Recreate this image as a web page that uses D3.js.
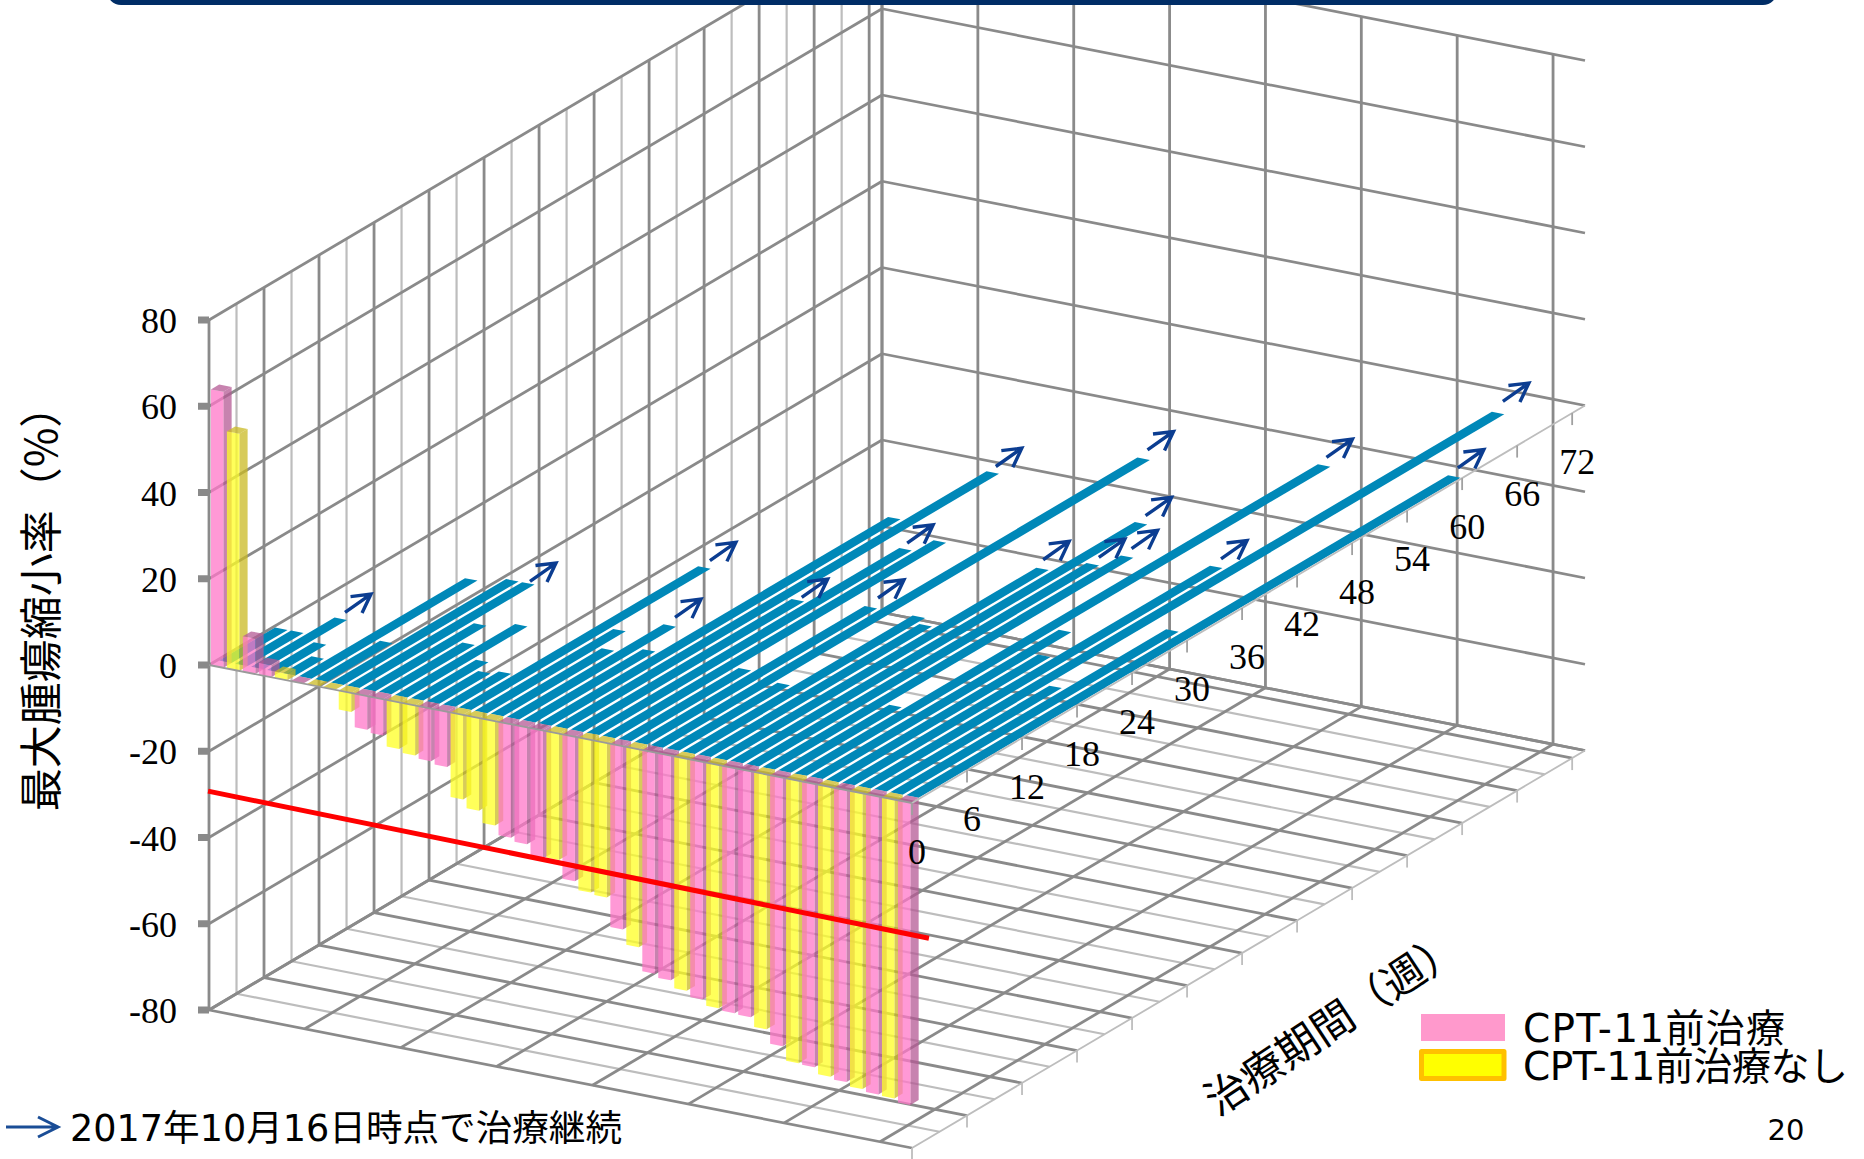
<!DOCTYPE html>
<html>
<head>
<meta charset="utf-8">
<script src="https://cdnjs.cloudflare.com/ajax/libs/d3/7.8.5/d3.min.js"></script>
<style>
  html, body { margin: 0; padding: 0; background: #fff; overflow: hidden; }
  svg { display: block; }
</style>
</head>
<body>
<div id="chart"></div>
<script>
// one entry per patient, left to right along the front of the box
const change = [64, 55, 8.2, 2.8, 1.5, 0, 0, 0, -4.4, -7.8, -8.4, -10.8, -11.6, -12.2, -12.8, -19.6, -21.5, -24.2, -26.3, -27.1, -29.7, -29.3,
  -33.5, -35.4, -35.8, -42.5, -45.9, -51.3, -52.1, -53.8, -55.1, -56.4, -56.8, -57, -59.1, -62.3, -65.5, -65.7, -67.2, -67.7, -68.6, -69.1, -69.3, -70.1];
const weeks = [7, 7, 10, 6, 4, 19, 8, 20, 20, 13, 10, 14, 8, 6.5, 7, 27, 16, 13, 18, 14, 39, 48,
  25, 35, 37, 14, 26, 54, 13, 26, 25, 36, 45, 38, 40, 13, 58, 28, 24, 41, 70, 20, 31, 60];
const groups = ["p", "y", "p", "p", "y", "p", "y", "y", "y", "p", "p", "y", "y", "p", "p", "y", "y", "y", "p", "p", "p", "y",
  "p", "y", "y", "p", "y", "p", "p", "y", "p", "y", "p", "p", "y", "p", "y", "p", "y", "p", "y", "p", "y", "p"];
const ongoing = [2, 8, 15, 18, 21, 22, 23, 26, 27, 31, 32, 33, 34, 36, 39, 40, 43];

const valueTicks = [-80, -60, -40, -20, 0, 20, 40, 60, 80];
const weekTicks = [0, 6, 12, 18, 24, 30, 36, 42, 48, 54, 60, 66, 72];
const patientGrid = [0, 6, 12, 18, 24, 30, 36, 42];
const weekGrid = [0, 3, 6, 9, 12, 15, 18, 21, 24, 27, 30, 33, 36, 39, 42, 45, 48, 51, 54, 57, 60, 63, 66, 69, 72];
const legendLabels = ["CPT-11前治療", "CPT-11前治療なし"];

const WEEK_MAX = 73.4;
const N = change.length;
const COLORS = {
  grid: "#8a8a8a", light: "#bdbdbd", blue: "#0088b8", arrow: "#0b3d91",
  p: {front: "#ff77c8", side: "#b45a94", top: "#b45a94"},
  y: {front: "#ffff23", side: "#caba23", top: "#caba23"}
};
const BAR = {start: 0.12, end: 0.9, depth: 0.9, opacity: 0.75};

// the box is an oblique projection, so each axis adds its own screen offset
const xPatient = d3.scaleLinear().domain([0, N]).range([0, 703]);
const yPatient = d3.scaleLinear().domain([0, N]).range([0, 138]);
const xWeek = d3.scaleLinear().domain([0, WEEK_MAX]).range([0, 673]);
const yWeek = d3.scaleLinear().domain([0, WEEK_MAX]).range([0, -397.5]);
const yValue = d3.scaleLinear().domain([-80, 80]).range([1010, 320]);
const X0 = 209;

function pt(a, w, v) {
  return [X0 + xPatient(a) + xWeek(w), yValue(v) + yPatient(a) + yWeek(w)];
}

const svg = d3.select("div#chart").append("svg").attr("width", 1864).attr("height", 1159);
const line = d3.line();

function seg(g, p1, p2, color, width) {
  g.append("line").attr("x1", p1[0]).attr("y1", p1[1]).attr("x2", p2[0]).attr("y2", p2[1])
    .attr("stroke", color).attr("stroke-width", width);
}
function poly(g, pts, fill, opacity) {
  g.append("path").attr("d", line(pts) + "Z").attr("fill", fill).attr("fill-opacity", opacity);
}

// ---- walls and floor
const grid = svg.append("g");
weekGrid.forEach(w => {
  const major = w % 6 === 0;
  const c = major ? COLORS.grid : COLORS.light;
  seg(grid, pt(0, w, -80), pt(N, w, -80), c, major ? 2.8 : 2.2);
  seg(grid, pt(0, w, -80), pt(0, w, 80), c, major ? 2.8 : 2.2);
});
seg(grid, pt(0, WEEK_MAX, -80), pt(N, WEEK_MAX, -80), COLORS.grid, 2.8);
seg(grid, pt(0, WEEK_MAX, -80), pt(0, WEEK_MAX, 80), COLORS.grid, 2.8);
patientGrid.forEach(a => {
  seg(grid, pt(a, 0, -80), pt(a, WEEK_MAX, -80), COLORS.grid, 2.8);
  seg(grid, pt(a, WEEK_MAX, -80), pt(a, WEEK_MAX, 80), COLORS.grid, 2.8);
});
valueTicks.forEach(v => {
  seg(grid, pt(0, 0, v), pt(0, WEEK_MAX, v), COLORS.grid, 2.8);
  seg(grid, pt(0, WEEK_MAX, v), pt(N, WEEK_MAX, v), COLORS.grid, 2.8);
});
// right edge of floor with its ticks
seg(grid, pt(N, 0, -80), pt(N, WEEK_MAX, -80), COLORS.light, 1.8);
weekTicks.forEach(w => {
  const p = pt(N, w, -80);
  seg(grid, p, [p[0], p[1] + 12], COLORS.light, 1.8);
});

// ---- duration bars lying in the zero plane
const blue = svg.append("g");
weeks.forEach((w, i) => {
  poly(blue, [pt(i + BAR.start, BAR.depth, 0), pt(i + BAR.end, BAR.depth, 0), pt(i + BAR.end, w, 0), pt(i + BAR.start, w, 0)], COLORS.blue, 1);
});

// ---- tumour change columns
const bars = svg.append("g");
change.forEach((v, i) => {
  const c = COLORS[groups[i]];
  const a0 = i + BAR.start, a1 = i + BAR.end, d = BAR.depth;
  const hi = Math.max(v, 0), lo = Math.min(v, 0);
  if (hi !== lo) {
    poly(bars, [pt(a1, 0, hi), pt(a1, d, hi), pt(a1, d, lo), pt(a1, 0, lo)], c.side, BAR.opacity);
    poly(bars, [pt(a0, 0, hi), pt(a1, 0, hi), pt(a1, 0, lo), pt(a0, 0, lo)], c.front, BAR.opacity);
  }
  poly(bars, [pt(a0, 0, hi), pt(a1, 0, hi), pt(a1, d, hi), pt(a0, d, hi)], c.top, BAR.opacity);
});

// ---- axes at the zero plane
const axes = svg.append("g");
seg(axes, pt(0, 0, 0), pt(N, 0, 0), "#9a9a9a", 1.8);
seg(axes, pt(N, 0, 0), pt(N, WEEK_MAX, 0), COLORS.light, 1.8);
weekTicks.forEach(w => {
  const p = pt(N, w, 0);
  seg(axes, p, [p[0], p[1] + 12], "#a0a0a0", 1.8);
  axes.append("text").attr("x", p[0] + 5).attr("y", p[1] + 48.5)
    .attr("text-anchor", "middle").attr("dominant-baseline", "central")
    .attr("font-family", "Liberation Serif").attr("font-size", 36).attr("fill", "#000").text(w);
});
valueTicks.forEach(v => {
  const y = yValue(v);
  axes.append("rect").attr("x", X0 - 11).attr("y", y - 3.5).attr("width", 11).attr("height", 7).attr("fill", COLORS.grid);
  axes.append("text").attr("x", 177).attr("y", y + 1).attr("text-anchor", "end").attr("dominant-baseline", "central")
    .attr("font-family", "Liberation Serif").attr("font-size", 36).attr("fill", "#000").text(v);
});

// ---- -30% threshold
seg(svg, pt(-0.06, 0, -29.3), pt(N + 1.06, 0, -30.6), "#ff0000", 5);

// ---- ongoing-treatment arrows, hand placed in the slide so each sits a bit differently off its bar
const arrowDx = [4.4, 1.8, 5.7, 5.4, 3.2, 4, 1.8, 7.2, 4, 0.8, 4.7, 6.2, 4.6, 2.5, 5, 5, 3.7];
const arrowDy = [-6.3, -2, -6.7, -8.1, -6, -2.8, -6.1, -9.3, -9, -9.1, -7.5, -6.8, -7.9, -8, -8, -11.6, -8.7];
function arrow(g, base, dx, dy, b1, b2, width, color) {
  const tip = [base[0] + dx, base[1] + dy];
  g.append("path")
    .attr("d", line([base, tip]) + line([[tip[0] + b1[0], tip[1] + b1[1]], tip, [tip[0] + b2[0], tip[1] + b2[1]]]))
    .attr("fill", "none").attr("stroke", color).attr("stroke-width", width);
}
const arrows = svg.append("g");
ongoing.forEach((i, k) => {
  const end = pt(i + 0.5, weeks[i], 0);
  arrow(arrows, [end[0] + arrowDx[k], end[1] + arrowDy[k]], 26, -18.3, [-20.5, 2.5], [-9, 19], 3.4, COLORS.arrow);
});

// ---- titles, legend, footer
const jp = "'DejaVu Sans', 'Noto Sans CJK JP'";
svg.append("text").attr("transform", "translate(38,598) rotate(-90)")
  .attr("text-anchor", "middle").attr("dominant-baseline", "central")
  .attr("font-family", "'Noto Sans CJK JP'").attr("font-size", 43).attr("fill", "#000").text("最大腫瘍縮小率（%）");
svg.append("text").attr("transform", "translate(1331,1020) rotate(-33.4)")
  .attr("text-anchor", "middle").attr("dominant-baseline", "central")
  .attr("font-family", "'Noto Sans CJK JP'").attr("font-size", 42.3).attr("fill", "#000").text("治療期間（週）");

svg.append("rect").attr("x", 1421).attr("y", 1014).attr("width", 84).attr("height", 27).attr("fill", "#ff99cc");
svg.append("rect").attr("x", 1421.5).attr("y", 1051.5).attr("width", 82.5).attr("height", 27)
  .attr("fill", "#ffff00").attr("stroke", "#ffc000").attr("stroke-width", 5).attr("stroke-linejoin", "round");
legendLabels.forEach((t, i) => {
  svg.append("text").attr("x", 1523).attr("y", i === 0 ? 1028 : 1066).attr("dominant-baseline", "central")
    .attr("font-family", jp).attr("font-size", 39).attr("textLength", i === 0 ? 262 : 325).attr("fill", "#000").text(t);
});

arrow(svg, [6, 1127], 52, 0, [-20, -10], [-20, 10], 3, "#1a4d96");
svg.append("text").attr("x", 70).attr("y", 1128).attr("dominant-baseline", "central")
  .attr("font-family", jp).attr("font-size", 36.6).attr("fill", "#000").text("2017年10月16日時点で治療継続");
svg.append("text").attr("x", 1786).attr("y", 1130).attr("text-anchor", "middle").attr("dominant-baseline", "central")
  .attr("font-family", jp).attr("font-size", 29).attr("fill", "#000").text("20");

// header band cut by the top of the slide
svg.append("rect").attr("x", 107).attr("y", -30).attr("width", 1670).attr("height", 35).attr("rx", 14).attr("fill", "#002d66");
</script>
</body>
</html>
